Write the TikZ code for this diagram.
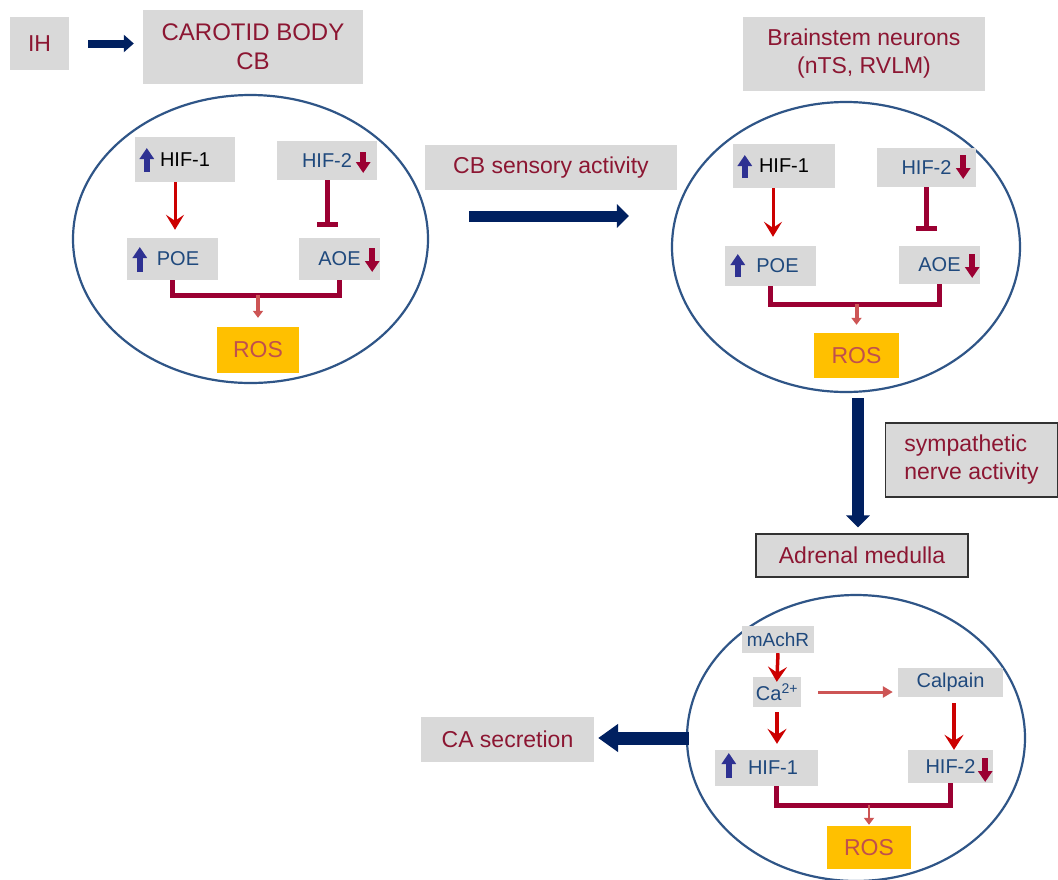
\documentclass[tikz,border=0pt]{standalone}
\usepackage{fontspec}
\setmainfont{Liberation Sans}
\usetikzlibrary{shapes.geometric,arrows.meta,calc}
\definecolor{boxgray}{RGB}{217,217,217}
\definecolor{labred}{RGB}{140,22,50}
\definecolor{navy}{RGB}{0,32,96}
\definecolor{ellblue}{RGB}{47,85,135}
\definecolor{arrblue}{RGB}{46,49,146}
\definecolor{txtblue}{RGB}{31,73,125}
\definecolor{maroon}{RGB}{155,0,50}
\definecolor{brightred}{RGB}{204,0,0}
\definecolor{salmon}{RGB}{205,85,85}
\definecolor{rosfill}{RGB}{255,192,0}
\definecolor{rostext}{RGB}{192,80,77}
\definecolor{bordergray}{RGB}{50,50,50}
\begin{document}
\begin{tikzpicture}[x=1pt,y=-1pt,
  gbox/.style={fill=boxgray, inner sep=0pt, font=\fontsize{23}{28}\selectfont, text=labred},
  ibox/.style={fill=boxgray, inner sep=0pt, font=\fontsize{20}{24}\selectfont, text=txtblue},
  rosbox/.style={fill=rosfill, inner sep=0pt, font=\fontsize{23}{28}\selectfont, text=rostext},
  cell/.style={ellipse, draw=ellblue, line width=2.2pt, inner sep=0pt},
  bigarr/.style={draw=navy, line width=11pt, -{Triangle[length=12pt,width=23pt]}},
  uparr/.style={draw=arrblue, line width=6.5pt, -{Triangle[length=11pt,width=14pt]}},
  dnarr/.style={draw=maroon, line width=6.5pt, -{Triangle[length=11pt,width=14pt]}},
  redarr/.style={draw=brightred, line width=3pt, -{Stealth[length=15pt,width=18pt,inset=6pt]}},
  redarrb/.style={draw=brightred, line width=3.5pt, -{Stealth[length=15pt,width=19pt,inset=6pt]}},
  inhib/.style={draw=maroon, line width=5pt, -{Bar[width=21pt]}},
  bracket/.style={draw=maroon, line width=5pt},
  rosarr/.style={draw=salmon, line width=4pt, -{Triangle[length=7pt,width=10pt]}},
  salarr/.style={draw=salmon, line width=3pt, -{Triangle[length=10pt,width=11pt]}},
]
\fill[white] (0,0) rectangle (1058,879);
\useasboundingbox (0,0) rectangle (1058,879);

% ---- top left
\node[gbox, minimum width=59pt, minimum height=53pt] (ih) at (39.5,43.5) {IH};
\node[gbox, minimum width=220pt, minimum height=74pt, align=center, font=\fontsize{24}{29}\selectfont] (cb) at (253,47) {CAROTID BODY\\CB};
\draw[bigarr, line width=8pt, -{Triangle[length=10pt,width=17pt]}, shorten <=19pt, shorten >=9pt] (ih.east) -- (ih.east -| cb.west);

% ---- ellipse 1
\node[cell, minimum width=355pt, minimum height=288pt] (e1) at (250.5,239) {};
\node[ibox, text=black, minimum width=100pt, minimum height=45pt] (a1) at (185,159.5) {HIF-1};
\node[ibox, minimum width=100pt, minimum height=39pt] (b1) at (327,160.5) {HIF-2\hspace{16pt}};
\node[ibox, minimum width=91pt, minimum height=42pt] (c1) at (172.5,259) {\hspace{11pt}POE};
\node[ibox, minimum width=81pt, minimum height=42pt] (d1) at (339.5,259) {AOE\hspace{6pt}};
\node[rosbox, minimum width=82pt, minimum height=46pt] (r1) at (258,350) {ROS};
\draw[uparr] ($(a1.west)+(12,12.5)$) -- ++(0,-24);
\draw[dnarr] ($(b1.east)+(-14,-8.5)$) -- ++(0,21);
\draw[uparr] ($(c1.west)+(13,13)$) -- ++(0,-25);
\draw[dnarr] ($(d1.east)+(-8,-11)$) -- ++(0,24);
\coordinate (t1) at ($(a1.south)+(-10,0)$);
\draw[redarr, shorten >=8pt] (t1) -- (t1 |- c1.north);
\draw[inhib, shorten >=11pt] (b1.south) -- (b1.south |- d1.north);
\draw[bracket] (c1.south) -- ++(0,15) coordinate (j1) -| (d1.south);
\draw[rosarr, shorten >=9pt] (r1.north |- j1) -- (r1.north);

% ---- sensory
\node[gbox, minimum width=252pt, minimum height=45pt] (sens) at (551,167.5) {CB sensory activity};
\coordinate (sy) at (0,216);

% ---- ellipse 2
\node[gbox, minimum width=242pt, minimum height=74pt, align=center] (brain) at (864,54) {Brainstem neurons\\(nTS, RVLM)};
\node[cell, minimum width=348pt, minimum height=290pt] (e2) at (846,247) {};
\draw[bigarr, shorten <=40pt, shorten >=42pt] (e1.east |- sy) -- (e2.west |- sy);
\node[ibox, text=black, minimum width=102pt, minimum height=44pt] (a2) at (784,166) {HIF-1};
\node[ibox, minimum width=99pt, minimum height=39pt] (b2) at (926.5,167.5) {HIF-2\hspace{18pt}};
\node[ibox, minimum width=91pt, minimum height=40pt] (c2) at (770.5,266) {\hspace{14pt}POE};
\node[ibox, minimum width=81pt, minimum height=38pt] (d2) at (939.5,265) {AOE\hspace{6pt}};
\node[rosbox, minimum width=85pt, minimum height=45pt] (r2) at (856.5,355.5) {ROS};
\draw[uparr] ($(a2.west)+(12,12)$) -- ++(0,-23);
\draw[dnarr] ($(b2.east)+(-13,-12.5)$) -- ++(0,24);
\draw[uparr] ($(c2.west)+(13,11)$) -- ++(0,-23);
\draw[dnarr] ($(d2.east)+(-8,-11)$) -- ++(0,24);
\coordinate (t2) at ($(a2.south)+(-11,0)$);
\draw[redarr, shorten >=9pt] (t2) -- (t2 |- c2.north);
\draw[inhib, shorten >=15pt] (b2.south) -- (b2.south |- d2.north);
\draw[bracket] (c2.south) -- ++(0,18) coordinate (j2) -| (d2.south);
\draw[rosarr, shorten >=8pt] (r2.north |- j2) -- (r2.north);

% ---- sympathetic / adrenal
\node[gbox, draw=bordergray, line width=1.2pt, minimum width=172pt, minimum height=74pt, align=left] (symp) at (971.5,460) {sympathetic\\nerve activity};
\node[gbox, draw=bordergray, line width=1.2pt, minimum width=212pt, minimum height=43pt] (am) at (862,555.5) {Adrenal medulla};
\coordinate (dx) at (858,0);
\draw[bigarr, line width=12pt, shorten <=5pt, shorten >=6pt] (dx |- e2.south) -- (dx |- am.north);

% ---- ellipse 3
\node[cell, minimum width=338pt, minimum height=286pt] (e3) at (856,738) {};
\node[ibox, minimum width=72pt, minimum height=27pt, font=\fontsize{19}{22}\selectfont] (m3) at (778,639.5) {mAchR};
\node[ibox, minimum width=48pt, minimum height=30pt] (ca3) at (777,692) {Ca\textsuperscript{2+}};
\node[ibox, minimum width=105pt, minimum height=29pt] (cp3) at (950.5,682.5) {Calpain};
\node[ibox, minimum width=103pt, minimum height=36pt] (h13) at (766.5,768) {\hspace{13pt}HIF-1};
\node[ibox, minimum width=85pt, minimum height=33pt] (h23) at (950.5,766.5) {HIF-2\hspace{4pt}};
\node[rosbox, minimum width=84pt, minimum height=43pt] (r3) at (869,847.5) {ROS};
\draw[uparr] ($(h13.west)+(14,10)$) -- ++(0,-25);
\draw[dnarr] ($(h23.east)+(-8,-8.5)$) -- ++(0,24);
\draw[redarrb, shorten >=-5pt] (m3.south) -- (ca3.north);
\draw[redarrb, shorten <=5pt, shorten >=6pt] (ca3.south) -- (ca3.south |- h13.north);
\coordinate (t3) at ($(cp3.south)+(3.5,0)$);
\draw[redarrb, shorten <=6pt] (t3) -- (t3 |- h23.north);
\draw[salarr, shorten <=17pt, shorten >=5pt] (ca3.east) -- (ca3.east -| cp3.west);
\draw[bracket] ($(h13.south)+(10,0)$) -- ++(0,19) coordinate (j3) -| (h23.south);
\draw[rosarr, line width=2.5pt, shorten >=1pt] (r3.north |- j3) -- (r3.north);

% ---- CA secretion
\node[gbox, minimum width=173pt, minimum height=45pt] (casec) at (507.5,739.5) {CA secretion};
\draw[bigarr, line width=13pt, -{Triangle[length=20pt,width=27pt]}, shorten <=-3pt, shorten >=4pt] (e3.west) -- (e3.west -| casec.east);
\end{tikzpicture}
\end{document}
